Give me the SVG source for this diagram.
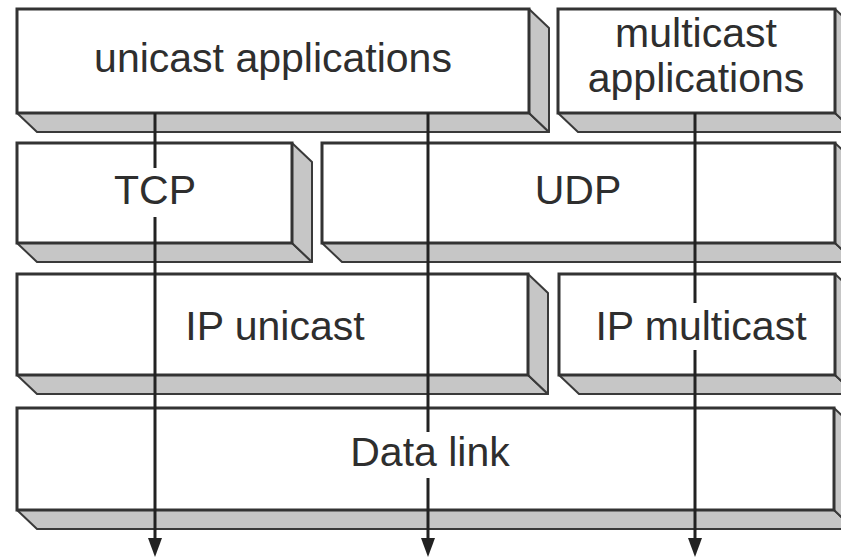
<svg xmlns="http://www.w3.org/2000/svg" width="841" height="559" viewBox="0 0 841 559">
  <style>
    .front { fill: #ffffff; stroke: #333333; stroke-width: 3; }
    .face { fill: #c6c6c6; stroke: #3a3a3a; stroke-width: 2; stroke-linejoin: round; }
    .label { font-family: "Liberation Sans", Arial, sans-serif; font-size: 41px; fill: #2e2e2e; text-anchor: middle; }
    .flow { fill: none; stroke: #222222; stroke-width: 3; }
  </style>
  <defs>
    <marker id="arrow" markerUnits="userSpaceOnUse" markerWidth="20" markerHeight="14" refX="0" refY="7" orient="auto" viewBox="0 0 20 14">
      <path d="M0,0 L19,7 L0,14 Z" fill="#222222"/>
    </marker>
  </defs>

  <rect width="841" height="559" fill="#ffffff"/>

  <!-- top row -->
  <g id="unicast-applications">
    <polygon class="face" points="17,113 529,113 549,132 37,132"/>
    <polygon class="face" points="529,9 549,28 549,132 529,113"/>
    <rect class="front" x="17" y="9" width="512" height="104"/>
    <text class="label" x="273" y="72">unicast applications</text>
  </g>
  <g id="multicast-applications">
    <polygon class="face" points="558,113 835,113 855,132 578,132"/>
    <polygon class="face" points="835,9 855,28 855,132 835,113"/>
    <rect class="front" x="558" y="9" width="277" height="104"/>
    <text class="label" x="696" y="47">multicast</text>
    <text class="label" x="696" y="92">applications</text>
  </g>

  <!-- transport row -->
  <g id="tcp">
    <polygon class="face" points="17,243 292,243 312,262 37,262"/>
    <polygon class="face" points="292,143 312,162 312,262 292,243"/>
    <rect class="front" x="17" y="143" width="275" height="100"/>
    <text class="label" x="155" y="204">TCP</text>
  </g>
  <g id="udp">
    <polygon class="face" points="322,243 835,243 855,262 342,262"/>
    <polygon class="face" points="835,143 855,162 855,262 835,243"/>
    <rect class="front" x="322" y="143" width="513" height="100"/>
    <text class="label" x="578" y="204">UDP</text>
  </g>

  <!-- network row -->
  <g id="ip-unicast">
    <polygon class="face" points="17,375 528,375 548,394 37,394"/>
    <polygon class="face" points="528,274 548,293 548,394 528,375"/>
    <rect class="front" x="17" y="274" width="511" height="101"/>
    <text class="label" x="275" y="340">IP unicast</text>
  </g>
  <g id="ip-multicast">
    <polygon class="face" points="559,375 835,375 855,394 579,394"/>
    <polygon class="face" points="835,274 855,293 855,394 835,375"/>
    <rect class="front" x="559" y="274" width="276" height="101"/>
    <text class="label" x="701" y="340">IP multicast</text>
  </g>

  <!-- link row -->
  <g id="data-link">
    <polygon class="face" points="17,510 834,510 854,529 37,529"/>
    <polygon class="face" points="834,408 854,427 854,529 834,510"/>
    <rect class="front" x="17" y="408" width="817" height="102"/>
    <text class="label" x="430" y="466">Data link</text>
  </g>

  <!-- data paths down the stack, broken where they pass a label -->
  <g id="connectors">
    <path class="flow" d="M155,113 V168 M155,217 V538" marker-end="url(#arrow)"/>
    <path class="flow" d="M428,113 V432 M428,478 V538" marker-end="url(#arrow)"/>
    <path class="flow" d="M695,113 V303 M695,350 V538" marker-end="url(#arrow)"/>
  </g>
</svg>
